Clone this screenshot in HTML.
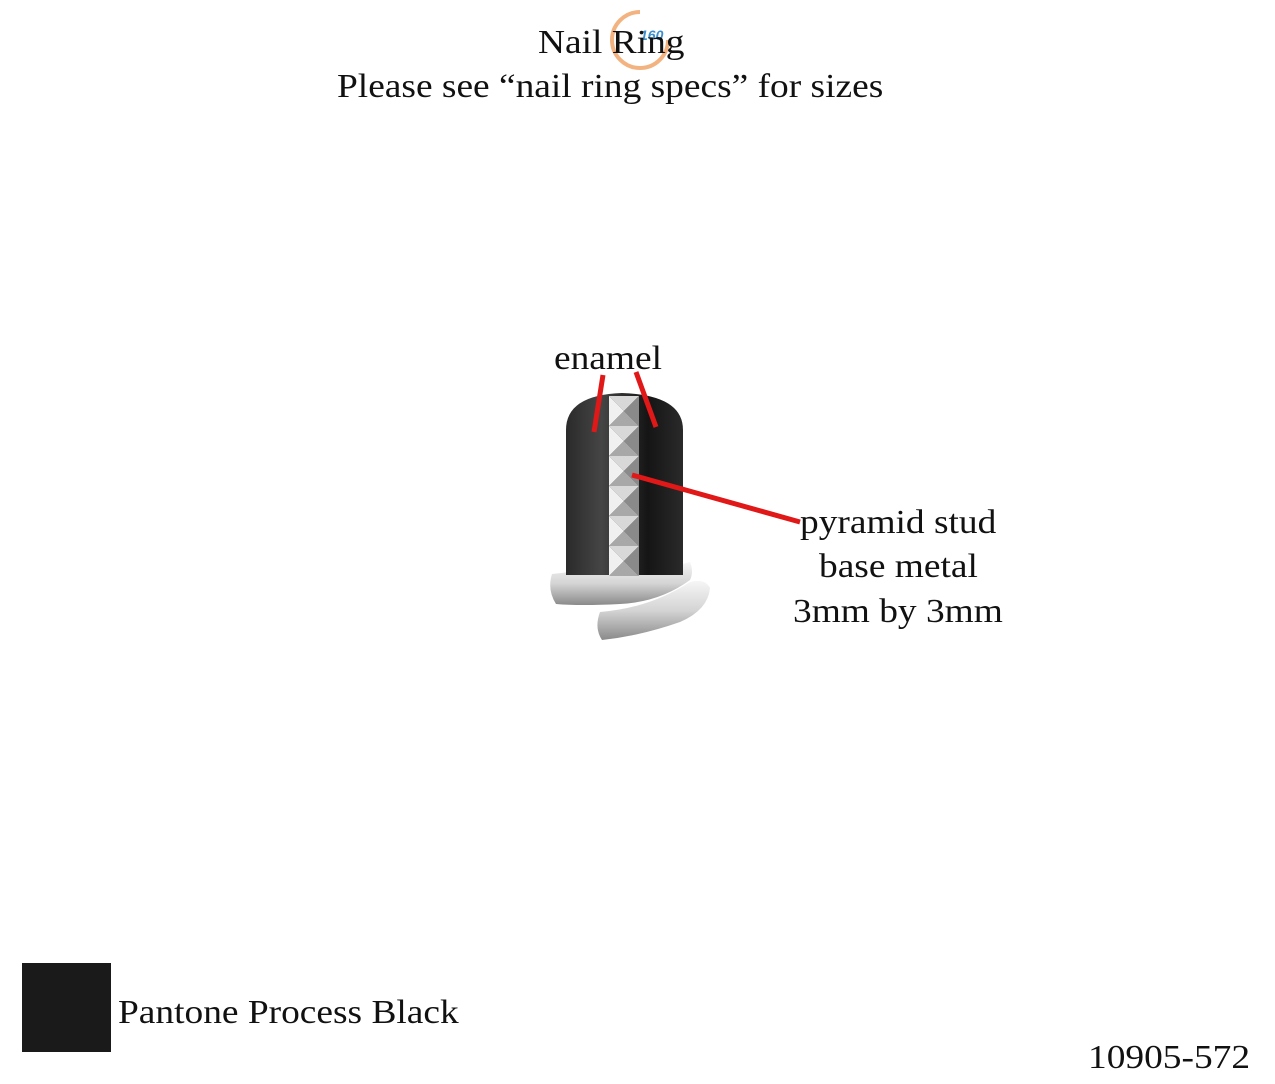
<!DOCTYPE html>
<html><head><meta charset="utf-8"><style>
html,body{margin:0;padding:0;background:#fff;}
body{width:1275px;height:1084px;position:relative;overflow:hidden;font-family:"Liberation Serif",serif;color:#111;}
.t{position:absolute;white-space:nowrap;font-size:34px;transform:scaleX(1.1);transform-origin:0 0;}
</style></head><body>
<svg width="1275" height="1084" style="position:absolute;left:0;top:0">
<defs>
<linearGradient id="body" x1="0" x2="1" y1="0" y2="0">
<stop offset="0" stop-color="#2a2a2a"/><stop offset="0.3" stop-color="#454545"/><stop offset="0.7" stop-color="#151515"/><stop offset="1" stop-color="#2a2a2a"/>
</linearGradient>
<linearGradient id="band" x1="0" x2="0" y1="0" y2="1">
<stop offset="0" stop-color="#f6f6f6"/><stop offset="0.5" stop-color="#d4d4d4"/><stop offset="1" stop-color="#8a8a8a"/>
</linearGradient>
<g id="s">
<polygon points="0,0 30,0 15,15" fill="#d8d8d8"/>
<polygon points="0,0 15,15 0,30" fill="#f0f0f0"/>
<polygon points="30,0 30,30 15,15" fill="#8a8a8a"/>
<polygon points="0,30 30,30 15,15" fill="#a8a8a8"/>
</g>
</defs>
<path d="M640 12 A28 28 0 1 0 668 40" fill="none" stroke="#f0a060" stroke-width="4" opacity="0.8"/>
<text x="640" y="40" font-family="Liberation Sans" font-size="14" font-style="italic" font-weight="bold" fill="#3a8fd0">160</text>
<!-- bands -->
<path d="M552 574 Q600 568 640 570 Q670 568 690 562 Q694 572 690 580 Q660 602 620 604 Q580 606 556 604 Q547 590 552 574Z" fill="url(#band)"/>
<path d="M600 612 Q650 608 690 582 Q705 578 710 588 Q708 610 680 622 Q640 636 602 640 Q594 628 600 612Z" fill="url(#band)"/>
<!-- nail body -->
<path d="M566 575 L566 430 Q566 395 622 393 Q683 395 683 430 L683 575 Z" fill="url(#body)"/>
<use href="#s" x="609" y="396"/>
<use href="#s" x="609" y="426"/>
<use href="#s" x="609" y="456"/>
<use href="#s" x="609" y="486"/>
<use href="#s" x="609" y="516"/>
<use href="#s" x="609" y="546"/>
<g stroke="#e01818" stroke-width="5">
<line x1="603" y1="375" x2="594" y2="432"/>
<line x1="636" y1="372" x2="656" y2="427"/>
<line x1="632" y1="475" x2="800" y2="522"/>
</g>
<rect x="22" y="963" width="89" height="89" fill="#1a1a1a"/>
</svg>
<div class="t" style="left:538px;top:24px;">Nail Ring</div>
<div class="t" style="left:337px;top:68px;">Please see “nail ring specs” for sizes</div>
<div class="t" style="left:554px;top:340px;">enamel</div>
<div class="t" style="left:800px;top:504px;">pyramid stud</div>
<div class="t" style="left:819px;top:548px;">base metal</div>
<div class="t" style="left:793px;top:593px;">3mm by 3mm</div>
<div class="t" style="left:118px;top:994px;">Pantone Process Black</div>
<div class="t" style="left:1088px;top:1039px;">10905-572</div>
</body></html>
